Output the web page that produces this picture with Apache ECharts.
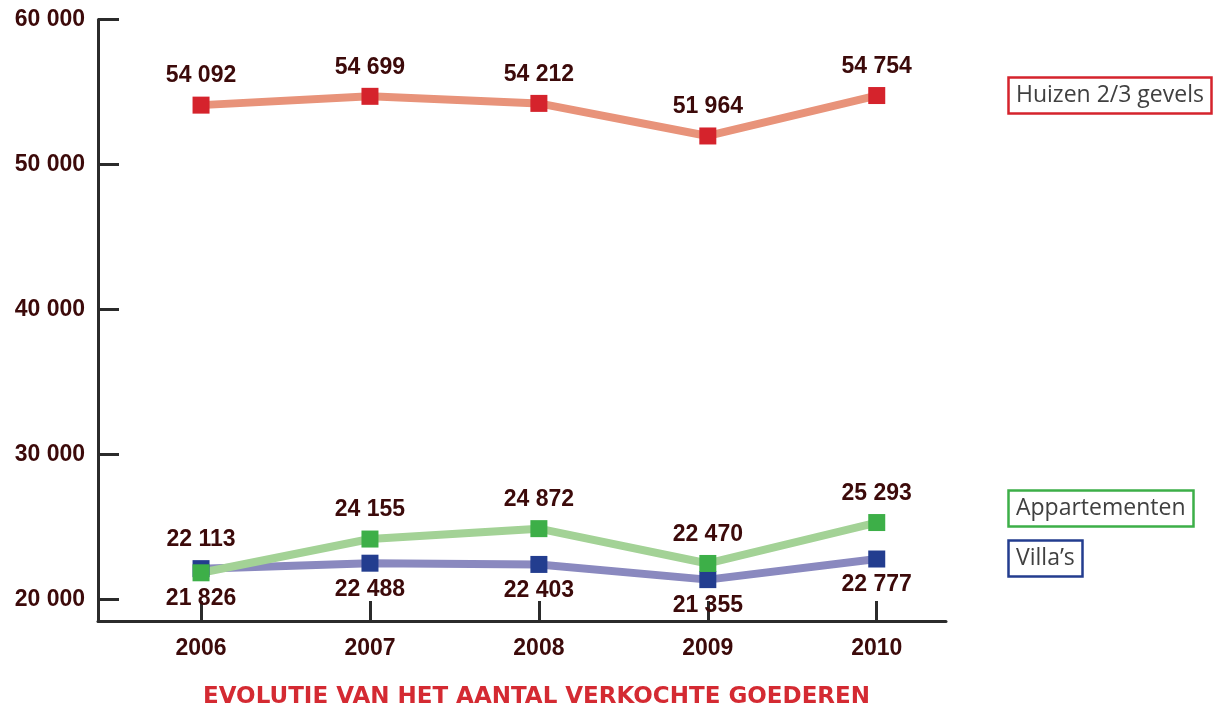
<!DOCTYPE html>
<html>
<head>
<meta charset="utf-8">
<title>Evolutie van het aantal verkochte goederen</title>
<script src="https://cdn.jsdelivr.net/npm/echarts@6/dist/echarts.min.js"></script>
<style>
  html, body { margin: 0; padding: 0; background: #fff; }
  #chart { width: 1216px; height: 712px; }
</style>
</head>
<body>
<div id="chart"></div>
<script>
// data
var years = [2006, 2007, 2008, 2009, 2010];
var huizen = [54092, 54699, 54212, 51964, 54754];
var appartementen = [21826, 24155, 24872, 22470, 25293];
var villas = [22113, 22488, 22403, 21355, 22777];
var yTicks = [20000, 30000, 40000, 50000, 60000];

var labelColor = '#3c0a0a';
var boldFont = 'Liberation Sans, Arial, sans-serif';

function fmt(v) {
    return String(v).replace(/\B(?=(\d{3})+(?!\d))/g, ' ');
}

function makeData(values, sides) {
    return years.map(function (y, i) {
        return {
            value: [y, values[i]],
            label: { position: sides[i], distance: sides[i] === 'top' ? 9 : 6 }
        };
    });
}

function lineSeries(name, values, lineColor, markColor, sides) {
    return {
        name: name,
        type: 'line',
        data: makeData(values, sides),
        symbol: 'rect',
        symbolSize: 17,
        showAllSymbol: true,
        lineStyle: { color: lineColor, width: 8 },
        itemStyle: { color: markColor },
        label: {
            show: true,
            color: labelColor,
            fontFamily: boldFont,
            fontWeight: 'bold',
            fontSize: 23,
            formatter: function (p) { return fmt(p.value[1]); }
        },
        animation: false
    };
}

function legendBox(text, color, left, top) {
    return {
        text: text,
        left: left,
        top: top,
        padding: [7, 8, 7, 8],
        borderColor: color,
        borderWidth: 2.5,
        textStyle: {
            fontFamily: 'Open Sans, sans-serif',
            fontWeight: 'normal',
            fontSize: 23,
            color: '#404040'
        }
    };
}

var chart = echarts.init(document.getElementById('chart'));

var option = {
    backgroundColor: '#fff',
    title: [
        {
            text: 'EVOLUTIE VAN HET AANTAL VERKOCHTE GOEDEREN',
            left: 203,
            top: 686,
            padding: 0,
            textStyle: {
                fontFamily: 'DejaVu Sans, sans-serif',
                fontWeight: 'bold',
                fontSize: 23,
                color: '#d42a32'
            }
        },
        legendBox('Huizen 2/3 gevels', '#d5232c', 1008, 77),
        legendBox('Appartementen', '#3daf48', 1008, 490),
        legendBox('Villa\u2019s', '#233d8f', 1008, 540)
    ],
    grid: {
        left: 98,
        right: 270,
        top: 19.5,
        bottom: 91,
        containLabel: false
    },
    xAxis: {
        type: 'value',
        min: 2005.39,
        max: 2010.41,
        splitLine: { show: false },
        axisLine: { show: true, lineStyle: { color: '#2b2b2b', width: 3 } },
        axisTick: {
            show: true,
            inside: true,
            length: 20,
            customValues: years,
            lineStyle: { color: '#2b2b2b', width: 3 }
        },
        axisLabel: {
            customValues: years,
            margin: 16,
            color: labelColor,
            fontFamily: boldFont,
            fontWeight: 'bold',
            fontSize: 23,
            formatter: function (v) { return String(Math.round(v)); }
        }
    },
    yAxis: {
        type: 'value',
        min: 18500,
        max: 60000,
        splitLine: { show: false },
        axisLine: { show: true, lineStyle: { color: '#2b2b2b', width: 3 } },
        axisTick: {
            show: true,
            inside: true,
            length: 21,
            customValues: yTicks,
            lineStyle: { color: '#2b2b2b', width: 3 }
        },
        axisLabel: {
            customValues: yTicks,
            margin: 13,
            color: labelColor,
            fontFamily: boldFont,
            fontWeight: 'bold',
            fontSize: 23,
            formatter: fmt
        }
    },
    series: [
        lineSeries('Huizen 2/3 gevels', huizen, '#e8937a', '#d5232c',
            ['top', 'top', 'top', 'top', 'top']),
        lineSeries('Villa\u2019s', villas, '#8a89bf', '#233d8f',
            ['top', 'bottom', 'bottom', 'bottom', 'bottom']),
        lineSeries('Appartementen', appartementen, '#a3d296', '#3daf48',
            ['bottom', 'top', 'top', 'top', 'top'])
    ]
};

chart.setOption(option);
</script>
</body>
</html>
